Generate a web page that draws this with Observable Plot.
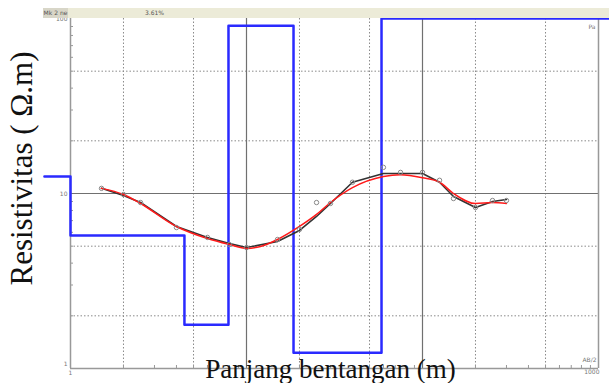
<!DOCTYPE html>
<html><head><meta charset="utf-8">
<script src="https://cdn.jsdelivr.net/npm/d3@7"></script>
<script src="https://cdn.jsdelivr.net/npm/@observablehq/plot@0.6"></script>
<style>
body{margin:0;background:#fff;}
#wrap{position:relative;width:609px;height:383px;overflow:hidden;}
#hdr{position:absolute;left:43px;top:8px;width:566px;height:10px;background:#ecebd8;font:6px "DejaVu Sans",sans-serif;color:#555;}
#hdr .box{position:absolute;left:0;top:0;width:25px;height:10px;background:#d8d6c8;line-height:10px;text-align:center;}
#hdr .pct{position:absolute;left:102px;top:0;line-height:10px;}
</style>
</head><body>
<div id="wrap"><div id="chart"></div>
<div id="hdr"><span class="box">Mk 2 ne</span><span class="pct">3.61%</span></div>
</div>
<script>
// AB/2 spacings (m) and apparent resistivity (Ohm.m)
const abHalf = [1.5, 2, 2.5, 4, 6, 8, 10, 15, 20, 25, 30, 40, 60, 75, 100, 125, 150, 200, 250, 300];
const rhoPoints = [10.7, 9.87, 8.88, 6.39, 5.61, 5.11, 4.91, 5.46, 6.23, 8.88, 8.77, 11.6, 14.1, 13.2, 13.2, 11.9, 9.36, 8.32, 9.12, 9.12];
const rhoObserved = [10.7, 9.74, 8.88, 6.48, 5.61, 5.18, 4.91, 5.32, 6.15, 7.39, 8.77, 11.6, 13.0, 13.0, 13.0, 11.6, 9.61, 8.32, 9.0, 9.24];
// calculated curve
const calcX = [1.5, 2, 2.5, 4, 6, 8, 10, 12, 15, 20, 25, 30, 40, 60, 75, 100, 125, 150, 200, 250, 300];
const rhoCalc = [10.7, 9.87, 8.77, 6.48, 5.53, 5.11, 4.85, 4.98, 5.46, 6.48, 7.59, 8.88, 10.8, 12.5, 12.8, 12.3, 11.6, 10.0, 8.77, 8.88, 8.77];
// layer model: start depth of each layer and layer resistivity
const modelDepth = [0.711, 1, 4.44, 7.9, 18.5, 58.5, 1155];
const modelRho = [12.5, 5.75, 1.78, 91, 1.23, 100, 100];
// grid and ticks
const gridDotX = [2, 5, 20, 50, 200, 500];
const gridSolidX = [10, 100];
const gridDotY = [2, 5, 20, 50];
const gridSolidY = [10];
const minorX = [2,3,4,5,6,7,8,9,20,30,40,50,60,70,80,90,200,300,400,500,600,700,800,900];
const minorY = [2,3,4,5,6,7,8,9,20,30,40,50,60,70,80,90];
const xTickFirst = [1], xTickFirstLabel = ["1"];
const xTickLast = [1000], xTickLastLabel = ["1000"];
const yTickVals = [10, 100];
const yTickLabels = ["10", "100"];
const yTickBottom = [1], yTickBottomLabel = ["1"];
const xTitle = "Panjang bentangan (m)";
const yTitle = "Resistivitas ( Ω.m)";

const pts = abHalf.map((x, i) => ({x, y: rhoPoints[i]}));
const obs = abHalf.map((x, i) => ({x, y: rhoObserved[i]}));
const calc = calcX.map((x, i) => ({x, y: rhoCalc[i]}));
const model = modelDepth.map((x, i) => ({x, y: modelRho[i]}));
const serif = "'Liberation Serif','Times New Roman',serif";
const small = {fontSize: 6, fill: "#777", fontFamily: "DejaVu Sans"};

const chart = Plot.plot({
  width: 609, height: 383,
  marginLeft: 70, marginRight: 11, marginTop: 18, marginBottom: 15,
  x: {type: "log", domain: [1, 1000], axis: null},
  y: {type: "log", domain: [1, 100], axis: null},
  style: {background: "transparent", overflow: "visible"},
  marks: [
    Plot.ruleX(gridDotX, {stroke: "#8a8a8a", strokeDasharray: "1.5,2", strokeWidth: 1}),
    Plot.ruleY(gridDotY, {stroke: "#8a8a8a", strokeDasharray: "1.5,2", strokeWidth: 1}),
    Plot.ruleX(gridSolidX, {stroke: "#707070", strokeWidth: 1.2}),
    Plot.ruleY(gridSolidY, {stroke: "#707070", strokeWidth: 1.2}),
    Plot.ruleX([1], {stroke: "#999", strokeWidth: 1.5}),
    Plot.ruleX([1000], {stroke: "#999", strokeWidth: 1.5}),
    Plot.ruleY([1], {stroke: "#999", strokeWidth: 1.5}),
    Plot.axisX({ticks: minorX, tickSize: -3, tickFormat: () => "", stroke: "#999", anchor: "bottom", tickPadding: 0, label: null}),
    Plot.axisY({ticks: minorY, tickSize: -3, tickFormat: () => "", stroke: "#999", anchor: "left", tickPadding: 0, label: null}),
    Plot.text(xTickFirst, {x: d => d, text: (d, i) => xTickFirstLabel[i], frameAnchor: "bottom", dy: 6, ...small}),
    Plot.text(xTickLast, {x: d => d, text: (d, i) => xTickLastLabel[i], frameAnchor: "bottom", dy: 5, dx: 1, textAnchor: "end", ...small}),
    Plot.text(yTickVals, {y: d => d, text: (d, i) => yTickLabels[i], frameAnchor: "left", dx: -3, dy: 1, textAnchor: "end", ...small}),
    Plot.text(yTickBottom, {y: d => d, text: (d, i) => yTickBottomLabel[i], frameAnchor: "left", dx: -3, dy: -4, textAnchor: "end", ...small}),
    Plot.text(["Pa"], {frameAnchor: "top-right", dx: -3, dy: 6, textAnchor: "end", ...small}),
    Plot.text(["AB/2"], {frameAnchor: "bottom-right", dx: -2, dy: -7, textAnchor: "end", ...small}),
    Plot.line(model, {x: "x", y: "y", curve: "step-after", stroke: "#2a2aff", strokeWidth: 2.5}),
    Plot.line(obs, {x: "x", y: "y", stroke: "#333", strokeWidth: 1.6}),
    Plot.line(calc, {x: "x", y: "y", stroke: "#ff1a1a", strokeWidth: 1.5, curve: "monotone-x"}),
    Plot.dot(pts, {x: "x", y: "y", r: 2.2, stroke: "#888", fill: "none", strokeWidth: 1}),
    Plot.text([xTitle], {frameAnchor: "bottom", dx: -4, dy: 1, lineAnchor: "middle", textAnchor: "middle", fontSize: 27, fontFamily: serif, fill: "#111"}),
    Plot.text([yTitle], {frameAnchor: "left", dx: -48, dy: -25, rotate: -90, lineAnchor: "middle", textAnchor: "middle", fontSize: 31, fontFamily: serif, fill: "#111"})
  ]
});
document.getElementById("chart").appendChild(chart);
</script>
</body></html>
